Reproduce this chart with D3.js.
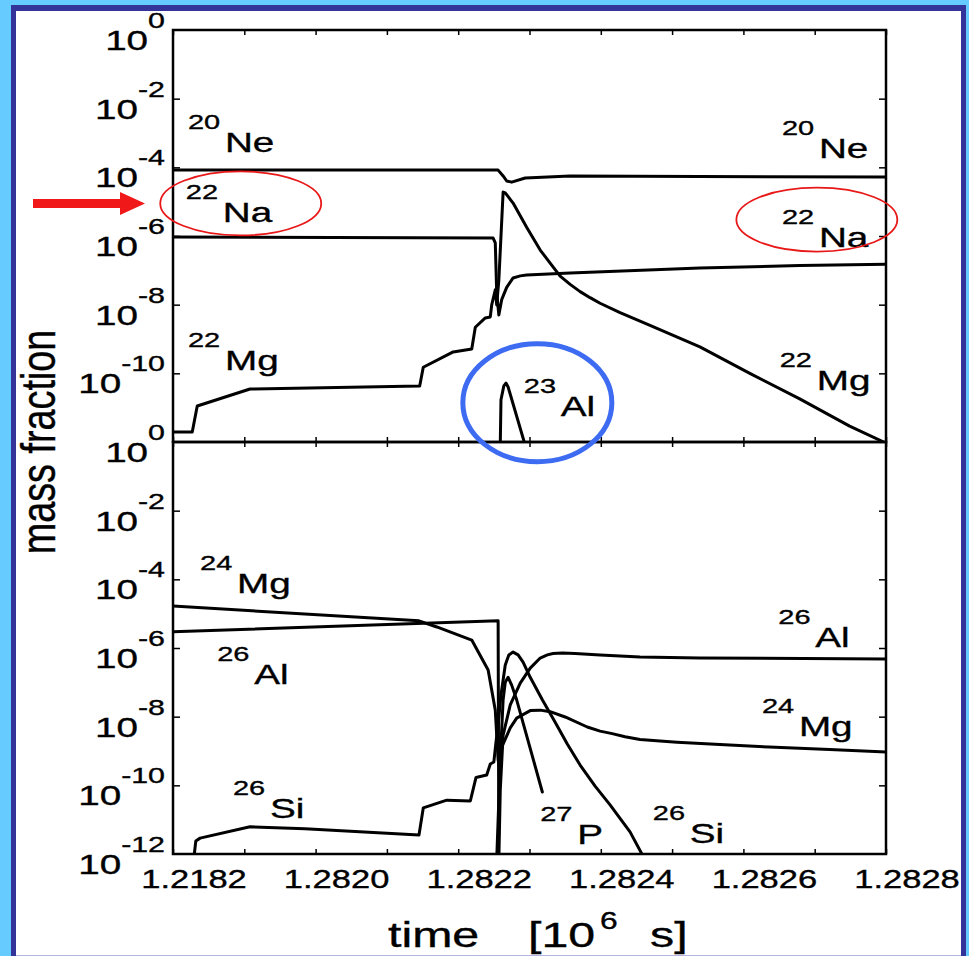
<!DOCTYPE html>
<html>
<head>
<meta charset="utf-8">
<script src="https://cdn.jsdelivr.net/npm/d3@7"></script>
<style>
  html, body { margin: 0; padding: 0; background: #66ccff; }
  svg { display: block; }
</style>
</head>
<body>
<svg id="chart" width="969" height="956"></svg>
<script>
// ---- axes (time in units of 10^6 s) ----
const timeDomain = [1.2818, 1.2828];
const timeTicks = [1.2818, 1.2819, 1.2820, 1.2821, 1.2822, 1.2823, 1.2824, 1.2825, 1.2826, 1.2827, 1.2828];
const timeTickLabels = ["1.2182", "1.2820", "1.2822", "1.2824", "1.2826", "1.2828"];
const upperDecades = [1e0, 1e-2, 1e-4, 1e-6, 1e-8, 1e-10];
const upperDecadeLabels = ["0", "-2", "-4", "-6", "-8", "-10"];
const lowerDecades = [1e0, 1e-2, 1e-4, 1e-6, 1e-8, 1e-10, 1e-12];
const lowerDecadeLabels = ["0", "-2", "-4", "-6", "-8", "-10", "-12"];
const innerDecades = [1e-2, 1e-4, 1e-6, 1e-8, 1e-10];

// ---- mass fractions, [time, X] ----
const ne20 = [
  [1.281800, 8.3e-5], [1.282256, 8.3e-5], [1.282263, 5.6e-5], [1.282268, 4.0e-5],
  [1.282275, 3.7e-5], [1.282294, 4.9e-5], [1.282357, 5.6e-5], [1.282800, 5.2e-5]
];
const na22 = [
  [1.281800, 9.3e-7], [1.282249, 8.7e-7], [1.282252, 6.3e-7], [1.282254, 2.2e-8],
  [1.282257, 5.0e-9], [1.282261, 1.4e-8], [1.282268, 3.2e-8], [1.282277, 6.0e-8],
  [1.282287, 6.9e-8], [1.282296, 7.3e-8], [1.282357, 8.3e-8], [1.282539, 1.17e-7],
  [1.282679, 1.38e-7], [1.282800, 1.5e-7]
];
const mg22 = [
  [1.281800, 1.95e-12], [1.281827, 1.95e-12], [1.281834, 1.12e-11], [1.281908, 3.5e-11],
  [1.282146, 4.3e-11], [1.282151, 1.5e-10], [1.282193, 4.2e-10], [1.282219, 5.1e-10],
  [1.282224, 2.2e-9], [1.282238, 4.1e-9], [1.282245, 4.4e-9], [1.282247, 9.8e-9],
  [1.282252, 2.7e-8], [1.282254, 9.8e-9], [1.282257, 5.2e-8], [1.282263, 1.9e-5],
  [1.282266, 1.8e-5], [1.282277, 9.1e-6], [1.282296, 1.8e-6], [1.282315, 3.9e-7],
  [1.282333, 1.26e-7], [1.282343, 6.8e-8], [1.282357, 3.9e-8], [1.282371, 2.4e-8],
  [1.282385, 1.6e-8], [1.282399, 1.1e-8], [1.282427, 5.9e-9], [1.282469, 2.5e-9],
  [1.282539, 5.9e-10], [1.282609, 1.0e-10], [1.282679, 1.8e-11], [1.282749, 2.9e-12],
  [1.282800, 9.3e-13]
];
const al23 = [
  [1.282259, 8e-13], [1.282260, 1.7e-11], [1.282264, 4.3e-11], [1.282267, 5.2e-11],
  [1.282270, 4.0e-11], [1.282294, 8e-13]
];
const mg24 = [
  [1.281800, 1.66e-5], [1.282145, 6.2e-6], [1.282170, 4.1e-6], [1.282219, 1.7e-6],
  [1.282242, 2.3e-7], [1.282252, 1.55e-8], [1.282256, 5.5e-10], [1.282259, 2.8e-10],
  [1.282261, 1.3e-9], [1.282273, 4.7e-9], [1.282282, 9.1e-9], [1.282301, 1.5e-8],
  [1.282315, 1.55e-8], [1.282329, 1.4e-8], [1.282350, 9.8e-9], [1.282381, 5.0e-9],
  [1.282399, 3.8e-9], [1.282416, 3.2e-9], [1.282434, 2.6e-9], [1.282455, 2.15e-9],
  [1.282483, 1.95e-9], [1.282507, 1.8e-9], [1.282567, 1.55e-9], [1.282636, 1.3e-9],
  [1.282721, 1.1e-9], [1.282800, 9.3e-10]
];
const al26 = [
  [1.281800, 2.95e-6], [1.282256, 6.2e-6], [1.282257, 6.8e-13], [1.282259, 7.3e-11],
  [1.282263, 2.9e-9], [1.282273, 2.2e-8], [1.282287, 9.5e-8], [1.282301, 2.6e-7],
  [1.282315, 5.1e-7], [1.282325, 6.3e-7], [1.282333, 6.9e-7], [1.282346, 7.1e-7],
  [1.282364, 6.9e-7], [1.282399, 6.3e-7], [1.282455, 5.5e-7], [1.282539, 5.1e-7],
  [1.282800, 4.8e-7]
];
const si26 = [
  [1.281829, 6.8e-13], [1.281832, 2.4e-12], [1.281838, 2.9e-12], [1.281908, 6.2e-12],
  [1.281985, 5.4e-12], [1.282145, 3.6e-12], [1.282151, 2.2e-11], [1.282184, 3.7e-11],
  [1.282217, 3.5e-11], [1.282225, 1.7e-10], [1.282240, 2.0e-10], [1.282245, 4.2e-10],
  [1.282250, 4.8e-10], [1.282253, 1.8e-9], [1.282256, 5.7e-9], [1.282260, 4.3e-8],
  [1.282266, 3.2e-7], [1.282271, 6.3e-7], [1.282277, 7.6e-7], [1.282284, 6.3e-7],
  [1.282291, 3.9e-7], [1.282301, 1.4e-7], [1.282318, 3.1e-8], [1.282336, 6.9e-9],
  [1.282353, 1.6e-9], [1.282371, 3.9e-10], [1.282392, 9.5e-11], [1.282413, 2.7e-11],
  [1.282441, 4.4e-12], [1.282462, 6.8e-13]
];
const p27 = [
  [1.282254, 6.8e-13], [1.282259, 5.5e-10], [1.282263, 3.1e-8], [1.282266, 1.0e-7],
  [1.282270, 1.4e-7], [1.282275, 8.3e-8], [1.282282, 3.1e-8], [1.282318, 6.4e-11]
];

// ---- isotope labels: mass number, element, anchor [time, X] ----
const upperLabels = [
  ["20", "Ne", 1.281821, 2.8e-4], ["22", "Na", 1.281818, 2.6e-6], ["22", "Mg", 1.281821, 1.26e-10],
  ["20", "Ne", 1.282654, 1.9e-4], ["22", "Na", 1.282654, 4.8e-7], ["22", "Mg", 1.282651, 3.3e-11],
  ["23", "Al", 1.282292, 5.7e-12]
];
const lowerLabels = [
  ["24", "Mg", 1.281838, 4.1e-5], ["26", "Al", 1.281862, 8.9e-8], ["26", "Si", 1.281884, 1.12e-11],
  ["27", "P", 1.282315, 1.95e-12], ["26", "Si", 1.282473, 2.1e-12], ["26", "Al", 1.282649, 1.07e-6],
  ["24", "Mg", 1.282626, 2.75e-9]
];
// highlight rings, centre [time, X]
const redRings = [[1.281895, 8.9e-6], [1.282703, 3.0e-6]];
const blueRing = [1.282311, 1.4e-11];

// ---- layout ----
const plotLeft = 173, plotRight = 886;
const upperTop = 30, panelMid = 442, lowerBottom = 854;
const STRETCH = 1.38;
const FONT = "'Liberation Sans', Arial, Helvetica, sans-serif";

const svg = d3.select("#chart");

// slide frame
svg.append("rect").attr("x", 11).attr("y", 5).attr("width", 955).attr("height", 951).attr("fill", "#333399");
svg.append("rect").attr("x", 16).attr("y", 11).attr("width", 945).attr("height", 944).attr("fill", "#ffffff");
svg.append("rect").attr("x", 16).attr("y", 955).attr("width", 945).attr("height", 1).attr("fill", "#b4b4e0");

const x = d3.scaleLinear().domain(timeDomain).range([plotLeft, plotRight]);
const yUpper = d3.scaleLog().domain([1, 1e-12]).range([upperTop, panelMid]);
const yLower = d3.scaleLog().domain([1, 1e-12]).range([panelMid, lowerBottom]);

function stretchedText(g, tx, ty, sx, sy) {
  return g.append("text")
    .attr("transform", `translate(${tx},${ty}) scale(${sx},${sy})`)
    .attr("font-family", FONT)
    .attr("fill", "#000").attr("stroke", "#000").attr("stroke-width", 0.35);
}

function drawPanel(id, y, top, bottom, series, decades, decadeLabels, labels) {
  const g = svg.append("g");
  svg.append("clipPath").attr("id", id).append("rect")
    .attr("x", plotLeft).attr("y", top).attr("width", plotRight - plotLeft).attr("height", bottom - top);

  const line = d3.line().x(d => x(d[0])).y(d => y(d[1]));
  g.append("g").attr("clip-path", `url(#${id})`)
    .selectAll("path").data(series).join("path")
    .attr("d", line)
    .attr("fill", "none").attr("stroke", "#000").attr("stroke-width", 3)
    .attr("stroke-linejoin", "round").attr("stroke-linecap", "round");

  // inward ticks on all four sides
  const tickStyle = sel => {
    sel.select(".domain").remove();
    sel.selectAll("line").attr("stroke", "#000").attr("stroke-width", 1.5);
    sel.selectAll("text").remove();
  };
  g.append("g").attr("transform", `translate(0,${top})`)
    .call(d3.axisBottom(x).tickValues(timeTicks).tickSize(5).tickFormat("")).call(tickStyle);
  g.append("g").attr("transform", `translate(0,${bottom})`)
    .call(d3.axisTop(x).tickValues(timeTicks).tickSize(5).tickFormat("")).call(tickStyle);
  g.append("g").attr("transform", `translate(${plotLeft},0)`)
    .call(d3.axisRight(y).tickValues(innerDecades).tickSize(7).tickFormat("")).call(tickStyle);
  g.append("g").attr("transform", `translate(${plotRight},0)`)
    .call(d3.axisLeft(y).tickValues(innerDecades).tickSize(7).tickFormat("")).call(tickStyle);

  g.append("rect").attr("x", plotLeft).attr("y", top)
    .attr("width", plotRight - plotLeft).attr("height", bottom - top)
    .attr("fill", "none").attr("stroke", "#000").attr("stroke-width", 2.5);

  // decade labels 10^n
  decades.forEach((v, i) => {
    const t = stretchedText(svg, 165, y(v) + 20, STRETCH, 1)
      .attr("text-anchor", "end").attr("font-size", 28);
    t.append("tspan").text("10");
    t.append("tspan").attr("dy", -22).attr("font-size", 22).text(decadeLabels[i]);
  });

  // isotope labels
  labels.forEach(([mass, sym, t, v]) => {
    const lg = svg.append("g")
      .attr("transform", `translate(${x(t)},${y(v)}) scale(${STRETCH},1)`)
      .attr("font-family", FONT).attr("fill", "#000")
      .attr("stroke", "#000").attr("stroke-width", 0.35);
    lg.append("text").attr("x", 0).attr("y", -23).attr("font-size", 21).text(mass);
    lg.append("text").attr("x", 37 / STRETCH).attr("y", 0).attr("font-size", 28).text(sym);
  });
}

drawPanel("clipUpper", yUpper, upperTop, panelMid, [ne20, na22, mg22, al23],
  upperDecades, upperDecadeLabels, upperLabels);
drawPanel("clipLower", yLower, panelMid, lowerBottom, [mg24, al26, si26, p27],
  lowerDecades, lowerDecadeLabels, lowerLabels);

// time tick labels on every second tick
timeTicks.filter((d, i) => i % 2 === 0).forEach((t, i) => {
  stretchedText(svg, x(t) + 21, 888, STRETCH, 1)
    .attr("text-anchor", "middle").attr("font-size", 25).text(timeTickLabels[i]);
});

// axis titles
stretchedText(svg, 388, 947, STRETCH, 1).attr("font-size", 35).text("time");
stretchedText(svg, 528, 947, STRETCH, 1).attr("font-size", 35).text("[10");
stretchedText(svg, 600, 929, STRETCH, 1).attr("font-size", 23).text("6");
stretchedText(svg, 650, 947, STRETCH, 1).attr("font-size", 35).text("s]");
svg.append("text")
  .attr("transform", `translate(55,442) rotate(-90) scale(1.08,1.37)`)
  .attr("font-family", FONT).attr("font-size", 35).attr("text-anchor", "middle")
  .attr("stroke", "#000").attr("stroke-width", 0.3)
  .text("mass fraction");

// highlight rings
svg.selectAll("ellipse.red").data(redRings).join("ellipse")
  .attr("class", "red")
  .attr("cx", d => x(d[0])).attr("cy", d => yUpper(d[1]))
  .attr("rx", 80.5).attr("ry", 32)
  .attr("fill", "none").attr("stroke", "#e81818").attr("stroke-width", 1.8);
svg.append("ellipse")
  .attr("cx", x(blueRing[0])).attr("cy", yUpper(blueRing[1]))
  .attr("rx", 74.5).attr("ry", 59)
  .attr("fill", "none").attr("stroke", "#3d6cf2").attr("stroke-width", 5);

// arrow pointing at the left 22Na ring
const ay = yUpper(redRings[0][1]);
const tip = plotLeft - 28;
svg.append("path")
  .attr("d", `M${tip - 112},${ay - 4.5} L${tip - 25},${ay - 4.5} L${tip - 25},${ay - 11.5} L${tip},${ay} ` +
             `L${tip - 25},${ay + 11.5} L${tip - 25},${ay + 4.5} L${tip - 112},${ay + 4.5} Z`)
  .attr("fill", "#f01818");
</script>
</body>
</html>
